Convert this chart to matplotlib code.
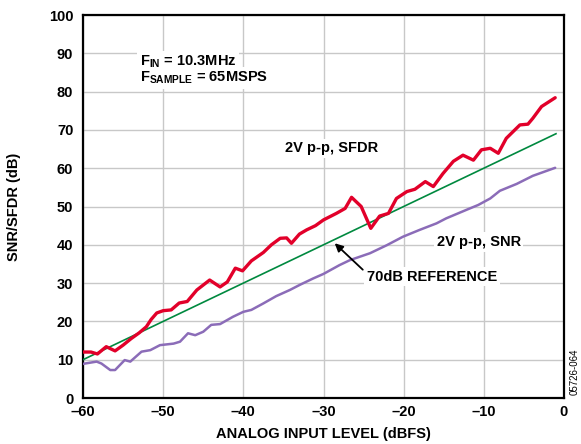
import matplotlib
matplotlib.use("Agg")
import matplotlib.pyplot as plt

plt.rcParams['font.family'] = ['Liberation Sans', 'DejaVu Sans']
plt.rcParams['font.weight'] = 'bold'
plt.rcParams['mathtext.fontset'] = 'custom'
plt.rcParams['mathtext.rm'] = 'Liberation Sans:bold'
plt.rcParams['mathtext.it'] = 'Liberation Sans:bold'
plt.rcParams['mathtext.bf'] = 'Liberation Sans:bold'

# Data
sfdr_x = [-60, -59, -58.2, -57.1, -56.0, -55.0, -54.0, -53.0, -52.1, -51.5, -50.8, -50.0, -49.0,
          -48.0, -47.0, -45.8, -44.2, -42.9, -42.0, -41.0, -40.1, -39.0, -37.5, -36.5, -35.4,
          -34.6, -34.0, -33.0, -32.1, -31.0, -30.0, -28.4, -27.3, -26.5, -25.3, -24.1, -23.0,
          -21.9, -20.9, -19.6, -18.6, -17.3, -16.3, -15.1, -13.8, -12.6, -11.3, -10.3, -9.2,
          -8.2, -7.2, -5.5, -4.5, -3.9, -2.8, -1.1]
sfdr_y = [12.0, 12.0, 11.5, 13.4, 12.3, 13.8, 15.5, 17.0, 18.6, 20.5, 22.2, 22.8, 23.0,
          24.8, 25.2, 28.2, 30.8, 29.0, 30.3, 33.9, 33.2, 35.8, 38.0, 40.0, 41.7,
          41.8, 40.4, 42.8, 43.9, 45.0, 46.5, 48.2, 49.5, 52.4, 50.0, 44.3, 47.5,
          48.2, 52.1, 53.9, 54.5, 56.5, 55.2, 58.6, 61.8, 63.4, 62.1, 64.8, 65.2,
          63.9, 67.8, 71.3, 71.5, 73.0, 76.1, 78.4]

snr_x = [-60, -59.75, -58.3, -57.7, -56.6, -56.0, -54.8, -54.1, -52.7, -51.6, -50.4, -48.7,
         -47.9, -46.9, -46.0, -45.0, -44.0, -42.9, -41.3, -40.0, -39.0, -37.5, -35.9, -34.2,
         -32.9, -31.3, -30.0, -28.0, -26.7, -24.2, -22.1, -20.1, -18.0, -15.9, -14.7, -12.2,
         -10.7, -9.2, -8.0, -5.9, -3.9, -1.1]
snr_y = [8.9, 9.0, 9.5, 9.0, 7.3, 7.3, 9.9, 9.5, 12.1, 12.5, 13.8, 14.2,
         14.7, 16.9, 16.4, 17.3, 19.1, 19.3, 21.2, 22.5, 23.0, 24.7, 26.6, 28.2,
         29.6, 31.2, 32.4, 34.7, 36.0, 37.8, 39.9, 42.1, 43.9, 45.6, 46.9, 49.1,
         50.4, 52.1, 54.1, 55.9, 58.0, 60.1]

ref_x = [-60, -1]
ref_y = [10, 69]

xticks = [-60, -50, -40, -30, -20, -10, 0]
xtick_labels = ['\u201360', '\u201350', '\u201340', '\u201330', '\u201320', '\u201310', '0']
yticks = [0, 10, 20, 30, 40, 50, 60, 70, 80, 90, 100]

fig = plt.figure(figsize=(5.81, 4.44), dpi=100)
ax = fig.add_axes([83/581, 1-398/444, (564-83)/581, (398-15)/444])

ax.plot(ref_x, ref_y, color='#00893F', lw=1.2, zorder=3)
ax.plot(snr_x, snr_y, color='#8B6CB8', lw=1.8, zorder=3, solid_capstyle='round')
ax.plot(sfdr_x, sfdr_y, color='#E2002A', lw=2.4, zorder=4, solid_capstyle='round',
        solid_joinstyle='round')

ax.set_xlim(-60, 0)
ax.set_ylim(0, 100)
ax.set_xticks(xticks)
ax.set_xticklabels(xtick_labels)
ax.set_yticks(yticks)
ax.tick_params(length=0, labelsize=10.5)
ax.tick_params(axis='x', pad=5)
ax.tick_params(axis='y', pad=7)
for lab in ax.get_xticklabels() + ax.get_yticklabels():
    lab.set_fontweight('bold')
ax.grid(True, color='#C8C8C8', lw=1.0)
ax.set_axisbelow(True)
for s in ax.spines.values():
    s.set_linewidth(1.6)
    s.set_color('black')

ax.set_xlabel('ANALOG INPUT LEVEL (dBFS)', fontsize=10.5, fontweight='bold', labelpad=6)
ax.set_ylabel('SNR/SFDR (dB)', fontsize=10.5, fontweight='bold', labelpad=20)

box = dict(facecolor='white', edgecolor='none', pad=2)
ax.text(-52.9, 87.8, r'F$_{\mathrm{IN}}$ = 10.3MHz', fontsize=10.5, fontweight='bold',
        va='center', ha='left', bbox=box, zorder=5)
ax.text(-52.9, 83.6, r'F$_{\mathrm{SAMPLE}}$ = 65MSPS', fontsize=10.5, fontweight='bold',
        va='center', ha='left', bbox=box, zorder=5)
ax.text(-34.8, 65.2, '2V p-p, SFDR', fontsize=10.5, fontweight='bold',
        va='center', ha='left', bbox=box, zorder=5)
ax.text(-15.9, 40.8, '2V p-p, SNR', fontsize=10.5, fontweight='bold',
        va='center', ha='left', bbox=box, zorder=5)
ax.text(-24.6, 31.7, '70dB REFERENCE', fontsize=10.5, fontweight='bold',
        va='center', ha='left', bbox=box, zorder=5)
ax.annotate('', xy=(-28.6, 40.4), xytext=(-25.1, 33.5),
            arrowprops=dict(arrowstyle='-|>', color='black', lw=1.3,
                            mutation_scale=12, shrinkA=0, shrinkB=0), zorder=6)

fig.text(575/581, 1-372/444, '05726-064', rotation=90, fontsize=7, fontweight='normal',
         ha='center', va='center')

fig.savefig('out.png', dpi=100)
